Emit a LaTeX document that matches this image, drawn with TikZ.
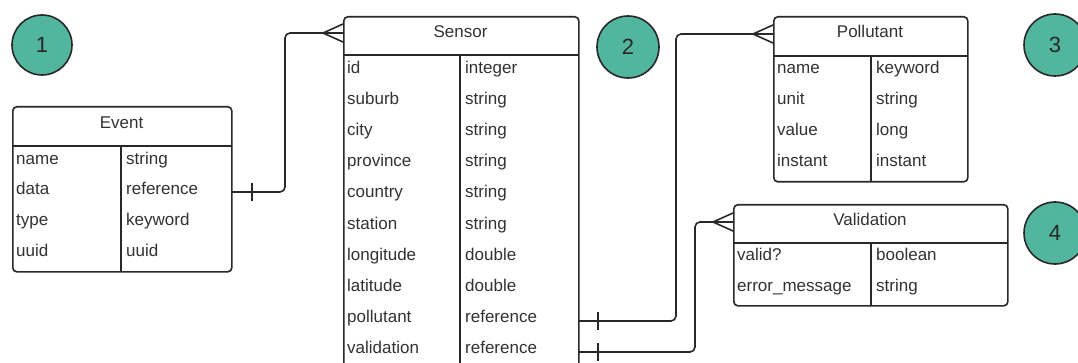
\documentclass[tikz,border=0pt]{standalone}
\usepackage{fontspec}
\setmainfont{Liberation Sans}
\definecolor{ink}{RGB}{40,40,40}
\definecolor{txt}{RGB}{50,50,50}
\definecolor{badge}{RGB}{82,182,158}
\tikzset{
  tbl/.style={draw=ink, line width=1.6pt, rounded corners=4pt, anchor=north west, inner sep=0pt},
  rule/.style={draw=ink, line width=1.6pt},
  conn/.style={draw=ink, line width=1.6pt, rounded corners=5pt},
  fld/.style={anchor=west, inner sep=0pt, text=txt, font=\fontsize{17}{20}\selectfont,
              text height=0.72em, text depth=0.2em, yshift=-1.5pt},
  ttl/.style={inner sep=0pt, text=txt, font=\fontsize{17}{20}\selectfont,
              text height=0.72em, text depth=0.2em, yshift=-1pt},
  numbadge/.style={circle, draw=ink, line width=1.6pt, fill=badge, text=ink,
              font=\fontsize{22}{25}\selectfont, inner sep=0pt},
}
\begin{document}
\begin{tikzpicture}[x=1pt, y=-1pt]
\useasboundingbox (0,0) rectangle (1078,363);
\clip (0,0) rectangle (1078,363);
\fill[white] (0,0) rectangle (1078,363);

% numbered badges
\node[numbadge, minimum size=60pt] (b1) at (42,45) {1};
\node[numbadge, minimum size=62pt] (b2) at (628,47) {2};
\node[numbadge, minimum size=62pt] (b3) at (1055,45) {3};
\node[numbadge, minimum size=62pt] (b4) at (1055,233) {4};

% Event table
\node[tbl, minimum width=219pt, minimum height=165pt] (event) at (12,106) {};
\draw[rule] (12,146) -- (231,146);
\draw[rule] (121,146) -- (121,271);
\node[ttl] (eventT) at (121.5,125) {Event};
\foreach [count=\i] \n/\t in {name/string, data/reference, type/keyword, uuid/uuid} {
  \node[fld] (eventN\i) at (16,{160+30.7*(\i-1)}) {\n};
  \node[fld] (eventY\i) at (126,{160+30.7*(\i-1)}) {\t};
}

% Sensor table
\node[tbl, minimum width=235pt, minimum height=390pt] (sensor) at (343,16) {};
\draw[rule] (343,55) -- (578,55);
\draw[rule] (460,55) -- (460,400);
\node[ttl] (sensorT) at (460.5,34) {Sensor};
\foreach [count=\i] \n/\t in {id/integer, suburb/string, city/string, province/string,
    country/string, station/string, longitude/double, latitude/double,
    pollutant/reference, validation/reference} {
  \node[fld] (sensorN\i) at (347,{69+31.2*(\i-1)}) {\n};
  \node[fld] (sensorY\i) at (465,{69+31.2*(\i-1)}) {\t};
}

% Pollutant table
\node[tbl, minimum width=194pt, minimum height=165pt] (pollutant) at (773,16) {};
\draw[rule] (773,56) -- (967,56);
\draw[rule] (871,56) -- (871,181);
\node[ttl] (pollutantT) at (870,34) {Pollutant};
\foreach [count=\i] \n/\t in {name/keyword, unit/string, value/long, instant/instant} {
  \node[fld] (pollutantN\i) at (777,{69+31*(\i-1)}) {\n};
  \node[fld] (pollutantY\i) at (876,{69+31*(\i-1)}) {\t};
}

% Validation table
\node[tbl, minimum width=274pt, minimum height=101pt] (validation) at (733,204) {};
\draw[rule] (733,243) -- (1007,243);
\draw[rule] (871,243) -- (871,305);
\node[ttl] (validationT) at (870,222) {Validation};
\node[fld] (validationN1) at (737,256) {valid?};
\node[fld] (validationY1) at (876,256) {boolean};
\node[fld] (validationN2) at (737,287) {error\_message};
\node[fld] (validationY2) at (876,287) {string};

% anchor points for the relationship lines
\coordinate (evOut) at (231,192);
\coordinate (snIn) at (343,33);
\coordinate (snOutP) at (578,321);
\coordinate (snOutV) at (578,352);
\coordinate (plIn) at (773,34);
\coordinate (vlIn) at (733,222);

% Event -> Sensor
\draw[conn] (evOut) -- ++(54,0) |- (snIn);
\draw[rule] ([xshift=21pt]evOut) ++(0,-9) -- ++(0,18);
\draw[rule] (snIn) ++(-20,0) -- ++(20,-9);
\draw[rule] (snIn) ++(-20,0) -- ++(20,9);

% Sensor -> Pollutant
\draw[conn] (snOutP) -- ++(98,0) |- (plIn);
\draw[rule] ([xshift=20pt]snOutP) ++(0,-9) -- ++(0,18);
\draw[rule] (plIn) ++(-20,0) -- ++(20,-9);
\draw[rule] (plIn) ++(-20,0) -- ++(20,9);

% Sensor -> Validation
\draw[conn] (snOutV) -- ++(117,0) |- (vlIn);
\draw[rule] ([xshift=20pt]snOutV) ++(0,-9) -- ++(0,18);
\draw[rule] (vlIn) ++(-20,0) -- ++(20,-9);
\draw[rule] (vlIn) ++(-20,0) -- ++(20,9);
\end{tikzpicture}
\end{document}
